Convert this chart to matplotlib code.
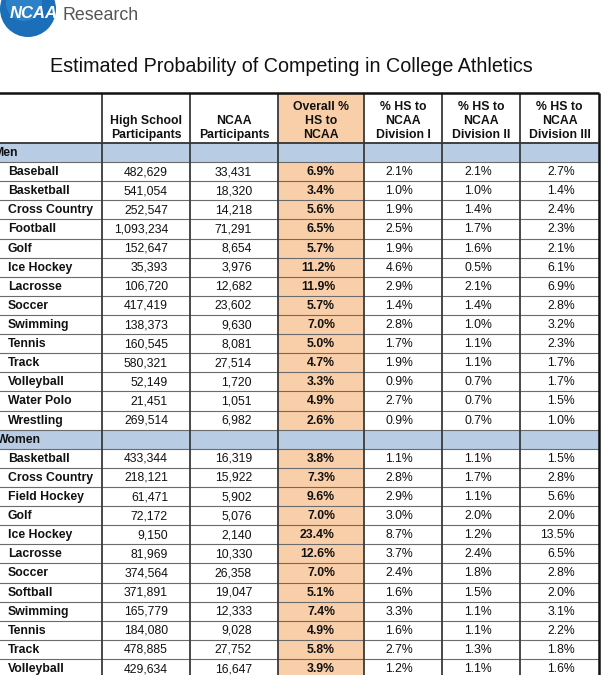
import matplotlib
matplotlib.use('Agg')

import matplotlib.pyplot as plt
from matplotlib.patches import Rectangle, Circle

plt.rcParams['font.family'] = ['Liberation Sans', 'DejaVu Sans']

# ==========================================
# 数据
# ==========================================
TITLE = "Estimated Probability of Competing in College Athletics"
HEADERS = ["High School\nParticipants", "NCAA\nParticipants", "Overall %\nHS to\nNCAA",
           "% HS to\nNCAA\nDivision I", "% HS to\nNCAA\nDivision II", "% HS to\nNCAA\nDivision III"]

sports_men = ["Baseball", "Basketball", "Cross Country", "Football", "Golf", "Ice Hockey",
              "Lacrosse", "Soccer", "Swimming", "Tennis", "Track", "Volleyball",
              "Water Polo", "Wrestling"]
hs_men = [482629, 541054, 252547, 1093234, 152647, 35393, 106720, 417419, 138373,
          160545, 580321, 52149, 21451, 269514]
ncaa_men = [33431, 18320, 14218, 71291, 8654, 3976, 12682, 23602, 9630, 8081,
            27514, 1720, 1051, 6982]
overall_men = [6.9, 3.4, 5.6, 6.5, 5.7, 11.2, 11.9, 5.7, 7.0, 5.0, 4.7, 3.3, 4.9, 2.6]
d1_men = [2.1, 1.0, 1.9, 2.5, 1.9, 4.6, 2.9, 1.4, 2.8, 1.7, 1.9, 0.9, 2.7, 0.9]
d2_men = [2.1, 1.0, 1.4, 1.7, 1.6, 0.5, 2.1, 1.4, 1.0, 1.1, 1.1, 0.7, 0.7, 0.7]
d3_men = [2.7, 1.4, 2.4, 2.3, 2.1, 6.1, 6.9, 2.8, 3.2, 2.3, 1.7, 1.7, 1.5, 1.0]

sports_women = ["Basketball", "Cross Country", "Field Hockey", "Golf", "Ice Hockey",
                "Lacrosse", "Soccer", "Softball", "Swimming", "Tennis", "Track", "Volleyball"]
hs_women = [433344, 218121, 61471, 72172, 9150, 81969, 374564, 371891, 165779,
            184080, 478885, 429634]
ncaa_women = [16319, 15922, 5902, 5076, 2140, 10330, 26358, 19047, 12333, 9028,
              27752, 16647]
overall_women = [3.8, 7.3, 9.6, 7.0, 23.4, 12.6, 7.0, 5.1, 7.4, 4.9, 5.8, 3.9]
d1_women = [1.1, 2.8, 2.9, 3.0, 8.7, 3.7, 2.4, 1.6, 3.3, 1.6, 2.7, 1.2]
d2_women = [1.1, 1.7, 1.1, 2.0, 1.2, 2.4, 1.8, 1.5, 1.1, 1.1, 1.3, 1.1]
d3_women = [1.5, 2.8, 5.6, 2.0, 13.5, 6.5, 2.8, 2.0, 3.1, 2.2, 1.8, 1.6]

# ==========================================
# 版式参数 (像素坐标)
# ==========================================
W, H = 607, 675
COL_EDGES = [-20, 102, 190, 278, 364, 442, 520, 599]
RIGHT_PAD = [None, 22, 26, 29, 29, 28, 24]
HEAD_TOP, HEAD_BOT = 93, 143
ROW_H = 19.11
PEACH = '#f9cfa9'
BLUE = '#b8cce4'
TXT = '#111111'
FS = 8.8

fig = plt.figure(figsize=(W / 100, H / 100), dpi=100)
ax = fig.add_axes([0, 0, 1, 1])
ax.set_xlim(0, W)
ax.set_ylim(H, 0)
ax.axis('off')

# 构造行：(类型, 数据)
rows = [("section", "Men")]
for i in range(len(sports_men)):
    rows.append(("data", [sports_men[i], f"{hs_men[i]:,}", f"{ncaa_men[i]:,}",
                          f"{overall_men[i]:.1f}%", f"{d1_men[i]:.1f}%",
                          f"{d2_men[i]:.1f}%", f"{d3_men[i]:.1f}%"]))
rows.append(("section", "Women"))
for i in range(len(sports_women)):
    rows.append(("data", [sports_women[i], f"{hs_women[i]:,}", f"{ncaa_women[i]:,}",
                          f"{overall_women[i]:.1f}%", f"{d1_women[i]:.1f}%",
                          f"{d2_women[i]:.1f}%", f"{d3_women[i]:.1f}%"]))

# Overall 列的底色
ax.add_patch(Rectangle((COL_EDGES[3], HEAD_TOP), COL_EDGES[4] - COL_EDGES[3],
                       H - HEAD_TOP + 10, facecolor=PEACH, edgecolor='none', zorder=0))

for r, (kind, content) in enumerate(rows):
    y0 = HEAD_BOT + r * ROW_H
    yc = y0 + ROW_H / 2
    if kind == "section":
        ax.add_patch(Rectangle((COL_EDGES[0], y0), COL_EDGES[-1] - COL_EDGES[0], ROW_H,
                               facecolor=BLUE, edgecolor='none', zorder=1))
        # 原图左侧被裁切，只露出部分字母
        xoff = -7 if content == "Men" else -3
        ax.text(xoff, yc + 0.5, content, ha='left', va='center', fontsize=FS,
                fontweight='bold', color=TXT, zorder=3)
    else:
        for c, val in enumerate(content):
            if c == 0:
                ax.text(8, yc + 0.5, val, ha='left', va='center', fontsize=FS,
                        fontweight='bold', color=TXT, zorder=3)
            else:
                ax.text(COL_EDGES[c + 1] - RIGHT_PAD[c], yc + 0.5, val, ha='right',
                        va='center', fontsize=FS, color=TXT, zorder=3,
                        fontweight='bold' if c == 3 else 'normal')
    # 行分隔线
    ax.hlines(y0 + ROW_H, COL_EDGES[0], COL_EDGES[-1], color='#6b6b6b', lw=0.8, zorder=2)

# 表头文字
for c, hd in enumerate(HEADERS):
    xc = (COL_EDGES[c + 1] + COL_EDGES[c + 2]) / 2
    ax.text(xc, HEAD_BOT - 2, hd, ha='center', va='bottom', fontsize=FS,
            fontweight='bold', color=TXT, linespacing=1.2, zorder=3)

# 竖线与边框
ax.vlines(COL_EDGES[1:-1], HEAD_TOP, H + 5, color='#3a3a3a', lw=1.3, zorder=2)
ax.vlines(COL_EDGES[-1], HEAD_TOP, H + 5, color='#111111', lw=1.8, zorder=2)
ax.hlines(HEAD_TOP, COL_EDGES[0], COL_EDGES[-1], color='#111111', lw=1.8, zorder=2)
ax.hlines(HEAD_BOT, COL_EDGES[0], COL_EDGES[-1], color='#333333', lw=1.3, zorder=2)

# 标题
ax.text(291, 67, TITLE, ha='center', va='center', fontsize=14.2, color='#111111')

# NCAA 标志
ax.add_patch(Circle((28, 9), 28, facecolor='#1b6fb8', edgecolor='none', zorder=1))
ax.add_patch(Circle((24, 3), 18, facecolor='#3d93d6', edgecolor='none', alpha=0.5, zorder=1))
ax.text(34, 14, "NCAA", ha='center', va='center', fontsize=12, fontweight='bold',
        fontstyle='italic', color='white', zorder=3)
ax.text(62, 15, "Research", ha='left', va='center', fontsize=12.8, color='#555555')

fig.savefig("out.png", dpi=100)
